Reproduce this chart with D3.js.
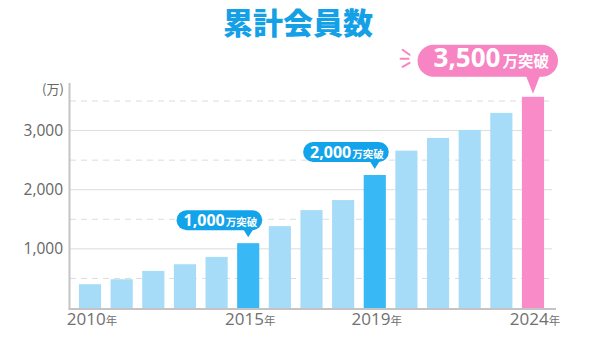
<!DOCTYPE html>
<html>
<head>
<meta charset="utf-8">
<script src="https://cdn.jsdelivr.net/npm/d3@7"></script>
<style>
  body { margin: 0; background: #fff; }
  svg { display: block; }
  .axis path, .axis line { display: none; }
</style>
</head>
<body>
<svg id="chart" width="600" height="340"></svg>
<script>
// data
const years = [2010, 2011, 2012, 2013, 2014, 2015, 2016, 2017, 2018, 2019, 2020, 2021, 2022, 2023, 2024];
const members = [402, 486, 627, 740, 864, 1096, 1384, 1655, 1825, 2249, 2661, 2876, 3011, 3299, 3571];
const barKind = ["n", "n", "n", "n", "n", "h", "n", "n", "n", "h", "n", "n", "n", "n", "p"];
const yTicks = [1000, 2000, 3000];
const yHalfTicks = [500, 1500, 2500, 3500];
const xTickYears = [2010, 2015, 2019, 2024];
const calloutYears = [2015, 2019, 2024];
const calloutNums = ["1,000", "2,000", "3,500"];
const calloutSuffix = "万突破";

const fontJP = "'Noto Sans CJK JP', 'Noto Sans', sans-serif";
const fontNum = "'Open Sans', 'Noto Sans', 'Noto Sans CJK JP', sans-serif";

const colors = {n: "#a6dcf8", h: "#38b9f6", p: "#f98cc8"};
const calloutColor = {h: "#13a3ea", p: "#f784c3"};

const svg = d3.select("#chart");

const x = d3.scaleBand()
    .domain(years)
    .range([74.2, 548.8])
    .paddingInner(0.3)
    .paddingOuter(0.15);

const y = d3.scaleLinear()
    .domain([0, 3500])
    .range([308, 101]);

// title
svg.append("text")
    .attr("x", 298)
    .attr("y", 34)
    .attr("text-anchor", "middle")
    .style("font-family", fontJP)
    .style("font-weight", 900)
    .style("font-size", "30px")
    .style("fill", "#14a0e6")
    .text("累計会員数");

// grid
const gridX0 = 70, gridX1 = 552;
svg.append("g").selectAll("line")
    .data(yTicks)
    .join("line")
    .attr("x1", gridX0).attr("x2", gridX1)
    .attr("y1", d => y(d)).attr("y2", d => y(d))
    .attr("stroke", "#dcdcdc")
    .attr("stroke-width", 1);

svg.append("g").selectAll("line")
    .data(yHalfTicks)
    .join("line")
    .attr("x1", gridX0).attr("x2", gridX1)
    .attr("y1", d => y(d)).attr("y2", d => y(d))
    .attr("stroke", "#dcdcdc")
    .attr("stroke-width", 1)
    .attr("stroke-dasharray", "6,5");

// bars
svg.append("g").selectAll("rect")
    .data(years)
    .join("rect")
    .attr("x", d => x(d))
    .attr("y", (d, i) => y(members[i]))
    .attr("width", x.bandwidth())
    .attr("height", (d, i) => y(0) - y(members[i]))
    .attr("fill", (d, i) => colors[barKind[i]]);

// axis lines
svg.append("line")
    .attr("x1", 69.5).attr("x2", 69.5)
    .attr("y1", 83).attr("y2", y(0) + 1)
    .attr("stroke", "#c4c4c4")
    .attr("stroke-width", 2);
svg.append("line")
    .attr("x1", 68.5).attr("x2", 556)
    .attr("y1", y(0) + 1).attr("y2", y(0) + 1)
    .attr("stroke", "#c4c4c4")
    .attr("stroke-width", 2);

// y axis labels
const yAxis = svg.append("g")
    .attr("class", "axis")
    .attr("transform", "translate(66,0)")
    .call(d3.axisLeft(y).tickValues(yTicks).tickSize(0).tickPadding(3).tickFormat(d3.format(",")));
yAxis.selectAll("text")
    .style("font-family", fontNum)
    .style("font-size", "15.5px")
    .style("fill", "#666");

svg.append("text")
    .attr("x", 53)
    .attr("y", 94)
    .attr("text-anchor", "middle")
    .style("font-family", fontJP)
    .style("font-size", "13px")
    .style("fill", "#666")
    .text("(万)");

// x axis labels
const xAxis = svg.append("g")
    .attr("class", "axis")
    .attr("transform", `translate(0,${y(0) + 2})`)
    .call(d3.axisBottom(x).tickValues(xTickYears).tickSize(0).tickPadding(8).tickFormat(""));
xAxis.selectAll(".tick text").each(function(d) {
    const t = d3.select(this)
        .attr("dx", 2)
        .style("font-family", fontNum)
        .style("fill", "#707070");
    t.append("tspan").style("font-size", "17px").text(d);
    t.append("tspan").style("font-size", "11.5px").style("font-family", fontJP).text("年");
});

// callouts
const callouts = calloutYears.map((yr, k) => {
    const i = years.indexOf(yr);
    return {cx: x(yr) + x.bandwidth() / 2, top: y(members[i]), kind: barKind[i], num: calloutNums[k]};
});

callouts.forEach(c => {
    const big = c.kind === "p";
    const h = big ? 32 : 20;
    const tipLen = big ? 17 : 7;
    const tipHalf = big ? 7 : 5;
    const tipY = c.top - (big ? 3 : 6);
    const bodyBottom = tipY - tipLen;
    const numSize = big ? 26 : 16;
    const sufSize = big ? 15.5 : 10.5;

    const g = svg.append("g");
    const txt = g.append("text")
        .attr("y", bodyBottom - h / 2)
        .attr("dy", "0.36em")
        .style("font-weight", 700)
        .style("fill", "#fff");
    txt.append("tspan")
        .style("font-family", fontNum)
        .style("font-size", numSize + "px")
        .text(c.num);
    txt.append("tspan")
        .attr("dx", big ? 2 : 1)
        .style("font-family", fontJP)
        .style("font-size", sufSize + "px")
        .text(calloutSuffix);

    const tw = txt.node().getComputedTextLength();
    const padL = big ? 16 : 7, padR = big ? 11 : 6;
    const w = tw + padL + padR;
    const right = c.cx + (big ? 25 : 14);
    const left = right - w;
    txt.attr("x", left + padL);

    g.insert("rect", "text")
        .attr("x", left).attr("y", bodyBottom - h)
        .attr("width", w).attr("height", h)
        .attr("rx", h / 2)
        .attr("fill", calloutColor[c.kind]);
    g.insert("path", "text")
        .attr("d", `M${c.cx - tipHalf},${bodyBottom - 1}L${c.cx + tipHalf},${bodyBottom - 1}L${c.cx},${tipY}Z`)
        .attr("fill", calloutColor[c.kind]);

    if (big) {
        const bx = left - 6, by = bodyBottom - h / 2 - 2;
        const rays = [[-9, -9, -2, -4], [-11, 0, -3, 0], [-9, 8, -2, 4]];
        g.selectAll("line.ray")
            .data(rays)
            .join("line")
            .attr("x1", r => bx + r[0]).attr("y1", r => by + r[1])
            .attr("x2", r => bx + r[2]).attr("y2", r => by + r[3])
            .attr("stroke", calloutColor[c.kind])
            .attr("stroke-width", 2)
            .attr("stroke-linecap", "round");
    }
});
</script>
</body>
</html>
